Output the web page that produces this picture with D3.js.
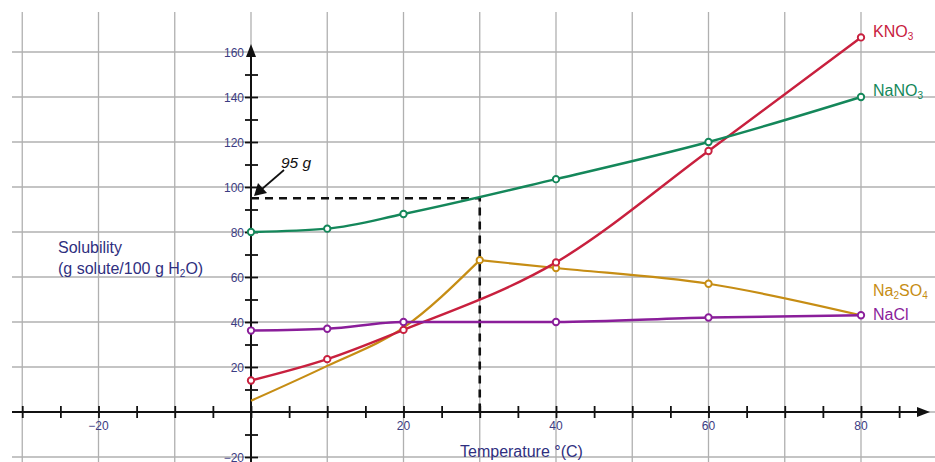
<!DOCTYPE html>
<html><head><meta charset="utf-8">
<script src="https://cdn.jsdelivr.net/npm/d3@7"></script>
<style>body{margin:0;background:#fff}svg{display:block;font-family:"Liberation Sans",Arial,sans-serif}</style>
</head><body><svg id="c" width="935" height="462"></svg>
<script>
const temps = [0, 10, 20, 40, 60, 80];
const kno3 = [14, 23.5, 36.5, 66.5, 116, 166.5];
const nano3 = [80, 81.5, 88, 103.5, 120, 140];
const nacl = [36.2, 37, 40, 40, 42, 43];
const na2so4Temps = [0, 10, 20, 30, 40, 60, 80];
const na2so4 = [5, 20.5, 37.5, 67.5, 64, 57, 43];
const na2so4Markers = [30, 40, 60];
const xTickLabels = [-20, 20, 40, 60, 80];
const yTickLabels = [-20, 20, 40, 60, 80, 100, 120, 140, 160];
const dashValueX = 30, dashValueY = 95;

const svg = d3.select("#c");
const x = d3.scaleLinear().domain([0, 80]).range([251, 861]);
const y = d3.scaleLinear().domain([0, 160]).range([412, 52]);

// grid
const gridX = d3.range(-30, 81, 10);
const gridY = d3.range(-20, 161, 20);
svg.append("g").selectAll("line").data(gridX).join("line")
  .attr("x1", d => x(d)).attr("x2", d => x(d)).attr("y1", 12).attr("y2", 462)
  .attr("stroke", "#b0b0b0").attr("stroke-width", 1.3);
svg.append("g").selectAll("line").data(gridY).join("line")
  .attr("x1", 12).attr("x2", 935).attr("y1", d => y(d)).attr("y2", d => y(d))
  .attr("stroke", "#b0b0b0").attr("stroke-width", 1.3);

// axes
const axisCol = "#111";
const xAxis = d3.axisBottom(x).tickValues(d3.range(-30, 86, 5)).tickSize(12).tickFormat("");
const gx = svg.append("g").attr("transform", `translate(0,${y(0)})`).call(xAxis);
gx.select(".domain").remove();
gx.selectAll(".tick line").attr("y1", -6).attr("y2", 6).attr("stroke", axisCol).attr("stroke-width", 1.8);
const yAxis = d3.axisLeft(y).tickValues(d3.range(-20, 151, 10).filter(d => d !== 0)).tickSize(12).tickFormat("");
const gy = svg.append("g").attr("transform", `translate(${x(0)},0)`).call(yAxis);
gy.select(".domain").remove();
gy.selectAll(".tick line").attr("x1", -6).attr("x2", 7).attr("stroke", axisCol).attr("stroke-width", 1.8);

svg.append("line").attr("x1", 12).attr("x2", 920).attr("y1", y(0)).attr("y2", y(0)).attr("stroke", axisCol).attr("stroke-width", 2);
svg.append("path").attr("d", `M930,${y(0)} L917,${y(0)-5} L917,${y(0)+5} Z`).attr("fill", axisCol);
svg.append("line").attr("x1", x(0)).attr("x2", x(0)).attr("y1", 462).attr("y2", 56).attr("stroke", axisCol).attr("stroke-width", 2);
svg.append("path").attr("d", `M${x(0)},44 L${x(0)-5},57 L${x(0)+5},57 Z`).attr("fill", axisCol);

const labCol = "#3c3c82";
svg.append("g").selectAll("text").data(xTickLabels).join("text")
  .attr("x", d => x(d)).attr("y", y(0) + 18).attr("text-anchor", "middle")
  .attr("font-size", 12).attr("fill", labCol).text(d => d === -20 ? "\u221220" : d);
svg.append("g").selectAll("text").data(yTickLabels).join("text")
  .attr("x", x(0) - 7).attr("y", d => y(d) + 4.5).attr("text-anchor", "end")
  .attr("font-size", 12).attr("fill", labCol).text(d => d < 0 ? "\u2212" + (-d) : d);

// axis titles
const yt = svg.append("text").attr("x", 58).attr("font-size", 16).attr("fill", "#2f2f80");
yt.append("tspan").attr("x", 58).attr("y", 253).text("Solubility");
yt.append("tspan").attr("x", 58).attr("y", 274).text("(g solute/100 g H");
yt.append("tspan").attr("font-size", 10).attr("dy", 3).text("2");
yt.append("tspan").attr("dy", -3).text("O)");
svg.append("text").attr("x", 460).attr("y", 457).attr("font-size", 16).attr("fill", "#2f2f80").text("Temperature \u00b0(C)");

// dashed guide
svg.append("path")
  .attr("d", `M${x(0)},${y(dashValueY)} H${x(dashValueX)} V${y(0)}`)
  .attr("fill", "none").attr("stroke", "#111").attr("stroke-width", 2.6).attr("stroke-dasharray", "8,6");
// annotation arrow
svg.append("line").attr("x1", 284).attr("y1", 170).attr("x2", 262).attr("y2", 189).attr("stroke", "#111").attr("stroke-width", 1.7);
svg.append("path").attr("d", "M254,196 L258,183 L267,193 Z").attr("fill", "#111");
svg.append("text").attr("x", 281).attr("y", 168).attr("font-size", 15.5).attr("font-style", "italic").attr("fill", "#111").text("95 g");

// series
const line = d3.line().x(d => x(d[0])).y(d => y(d[1])).curve(d3.curveMonotoneX);
const cKNO3 = "#c8203e", cNaNO3 = "#14875a", cNaCl = "#8a1e9a", cNa2SO4 = "#c68d14";

const so4 = na2so4Temps.map((t, i) => [t, na2so4[i]]);
const so4a = so4.filter(d => d[0] <= 30), so4b = so4.filter(d => d[0] >= 30);
svg.append("path").attr("d", line(so4a)).attr("fill", "none").attr("stroke", cNa2SO4).attr("stroke-width", 2.2);
svg.append("path").attr("d", line(so4b)).attr("fill", "none").attr("stroke", cNa2SO4).attr("stroke-width", 2.2);

const all = [[kno3, cKNO3], [nano3, cNaNO3], [nacl, cNaCl]];
all.forEach(([vals, c]) => {
  svg.append("path").attr("d", line(temps.map((t, i) => [t, vals[i]]))).attr("fill", "none").attr("stroke", c).attr("stroke-width", 2.4);
});
svg.append("g").selectAll("circle").data(so4.filter(d => na2so4Markers.includes(d[0]))).join("circle")
  .attr("cx", d => x(d[0])).attr("cy", d => y(d[1])).attr("r", 3.2)
  .attr("fill", "#fff").attr("stroke", cNa2SO4).attr("stroke-width", 1.9);
all.forEach(([vals, c]) => {
  svg.append("g").selectAll("circle").data(temps.map((t, i) => [t, vals[i]])).join("circle")
    .attr("cx", d => x(d[0])).attr("cy", d => y(d[1])).attr("r", 3.2)
    .attr("fill", "#fff").attr("stroke", c).attr("stroke-width", 1.9);
});

// series labels
function lab(yv, color, parts) {
  const t = svg.append("text").attr("x", 873).attr("y", yv).attr("font-size", 16).attr("fill", color);
  parts.forEach(p => {
    if (typeof p === "string") t.append("tspan").attr("dy", 0).text(p);
    else t.append("tspan").attr("font-size", 10).attr("dy", p.dy).text(p.s);
  });
  return t;
}
lab(37, cKNO3, ["KNO", {s: "3", dy: 3}]);
lab(96, cNaNO3, ["NaNO", {s: "3", dy: 3}]);
const l3 = svg.append("text").attr("x", 873).attr("y", 296).attr("font-size", 16).attr("fill", cNa2SO4);
l3.append("tspan").text("Na"); l3.append("tspan").attr("font-size", 10).attr("dy", 3).text("2");
l3.append("tspan").attr("dy", -3).text("SO"); l3.append("tspan").attr("font-size", 10).attr("dy", 3).text("4");
lab(320, cNaCl, ["NaCl"]);
</script></body></html>
